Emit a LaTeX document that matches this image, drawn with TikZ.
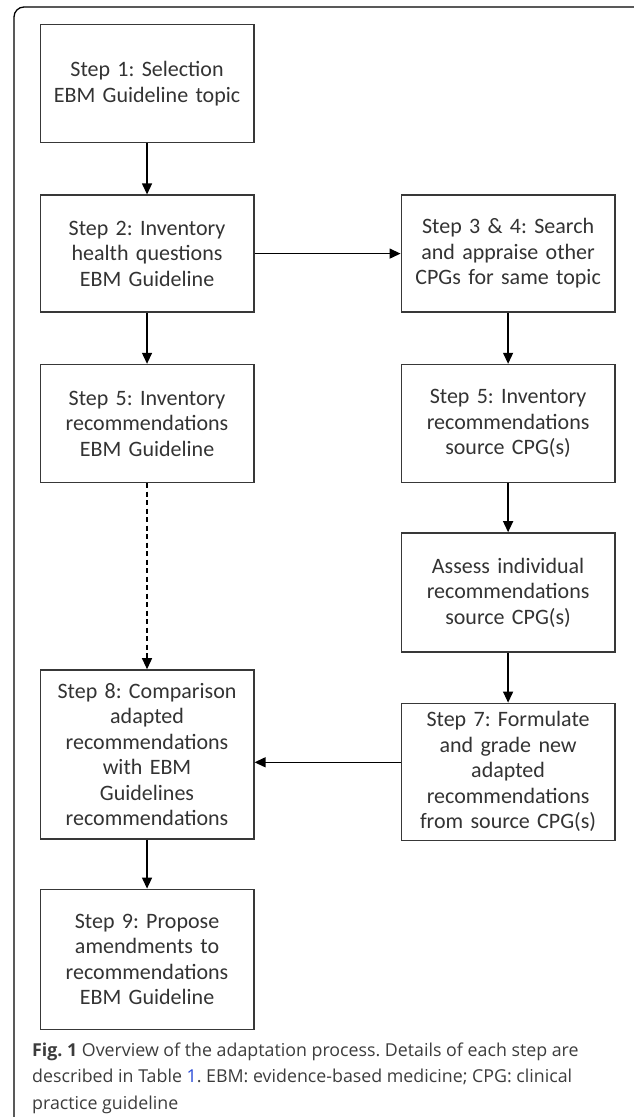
\documentclass[tikz,border=0pt]{standalone}
\usepackage{fontspec}
\setmainfont{Carlito}
\newfontfamily\captionfont{Open Sans}
\usepackage{xcolor}
\usepackage{tikz}
\usetikzlibrary{positioning}
\usetikzlibrary{arrows.meta}
\frenchspacing

\definecolor{boxgray}{HTML}{383838}
\definecolor{textgray}{HTML}{333333}
\definecolor{capgray}{HTML}{3C3C3C}
\definecolor{linkblue}{HTML}{2A4BD7}

\begin{document}
\begin{tikzpicture}[
          x=1pt,y=1pt,
          node distance=51pt and 146pt,
          stepnode/.style={draw=boxgray,line width=1.4pt,rectangle,minimum width=213pt,
                           text width=207pt,align=center,text=textgray,
                           font=\fontsize{22}{25.5}\selectfont},
          arr/.style={line width=1.3pt,draw=black,-{Triangle[length=11pt,width=10pt]}}
          ]

          \useasboundingbox (0,0) rectangle (633,-1117);
          \draw[line width=1.3pt,rounded corners=10pt] (14,-1130) -- (14,-7) -- (645,-7) -- (645,-1130);

          % left column
          \node[stepnode,minimum height=118pt,anchor=north west] (1) at (39.5,-24) {Step 1: Selection\\EBM Guideline topic};
          \node[stepnode,minimum height=117pt,below=of 1] (2) {Step 2: Inventory\\health questions\\EBM Guideline};
          \node[stepnode,minimum height=118pt,below=of 2] (5a) {Step 5: Inventory\\recommendations\\EBM Guideline};
          \node[stepnode,minimum height=169pt,below=186pt of 5a] (8) {Step 8: Comparison\\adapted\\recommendations\\with EBM\\Guidelines\\recommendations};
          \node[stepnode,minimum height=140pt,below=49pt of 8] (9) {Step 9: Propose\\amendments to\\recommendations\\EBM Guideline};

          % right column
          \node[stepnode,minimum height=117pt,right=of 2] (34) {Step 3 \& 4: Search\\and appraise other\\CPGs for same topic};
          \node[stepnode,minimum height=118pt,below=of 34] (5b) {Step 5: Inventory\\recommendations\\source CPG(s)};
          \node[stepnode,minimum height=119pt,below=49pt of 5b] (6) {Assess individual\\recommendations\\source CPG(s)};
          \node[stepnode,minimum height=137pt,below=50pt of 6] (7) {Step 7: Formulate\\and grade new\\adapted\\recommendations\\from source CPG(s)};

          \path (1) edge[arr] (2)
          (2) edge[arr] (34)
          (2) edge[arr] (5a)
          (34) edge[arr] (5b)
          (5b) edge[arr] (6)
          (6) edge[arr] (7)
          (5a) edge[arr,dash pattern=on 5pt off 3.5pt] (8)
          (8) edge[arr] (9)
          ([yshift=9.5pt]7.west) edge[arr] ([yshift=9.5pt]7.west -| 8.east)
          ;

          \node[anchor=base west,inner sep=0pt,align=left,text=capgray,
                font=\captionfont\fontsize{17.8}{26.5}\selectfont] (cap) at (32,-1109)
                {{\bfseries Fig. 1} Overview of the adaptation process. Details of each step are\\
                 described in Table {\color{linkblue}1}. EBM: evidence-based medicine; CPG: clinical\\
                 practice guideline};
        \end{tikzpicture}
\end{document}
